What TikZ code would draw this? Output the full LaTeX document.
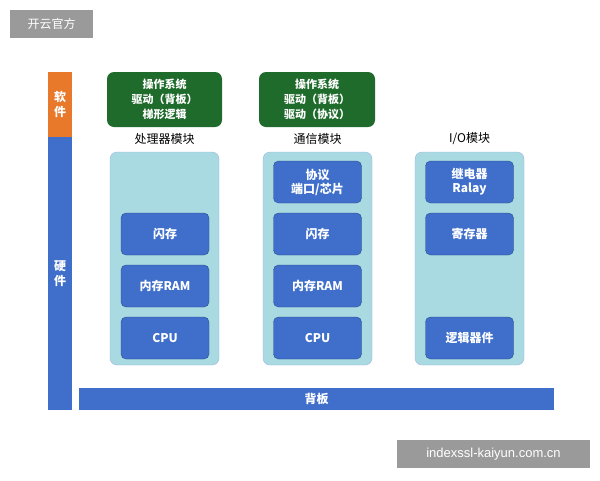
\documentclass[tikz,border=0pt]{standalone}
\usepackage{fontspec}
\setmainfont{Liberation Serif}
\newfontfamily\cjk{Noto Sans CJK SC}
\newfontfamily\wm{Liberation Sans}
\definecolor{hblue}{HTML}{3F6FCB}
\definecolor{lpanel}{HTML}{A9D9E1}
\definecolor{dgreen}{HTML}{1F6B2C}
\definecolor{sorange}{HTML}{E8792A}
\definecolor{wgray}{HTML}{9A9A9A}
\begin{document}
\begin{tikzpicture}[x=1pt,y=-1pt,
  inner/.style={draw=hblue!70!black,fill=hblue,rounded corners=5pt,text=white,font=\cjk\bfseries\fontsize{12}{14}\selectfont,align=center,minimum width=88,minimum height=42},
  gbox/.style={fill=dgreen,rounded corners=7pt,text=white,font=\cjk\bfseries\fontsize{11}{15}\selectfont,align=center},
  panel/.style={draw=hblue!50,fill=lpanel,rounded corners=7pt,minimum width=109,minimum height=213},
  lab/.style={font=\cjk\fontsize{12}{14}\selectfont},
  wmark/.style={fill=wgray,text=white,font=\cjk\fontsize{12}{14}\selectfont}]
\useasboundingbox (0,0) rectangle (600,480);
\fill[white] (0,0) rectangle (600,480);
% watermarks
\node[wmark,minimum width=83,minimum height=28] (wm1) at (51.5,24) {开云官方};
\node[wmark,minimum width=193,minimum height=28,font=\wm\fontsize{13}{15}\selectfont] (wm2) at (493.5,454) {indexssl-kaiyun.com.cn};
% left bar
\node[fill=sorange,minimum width=24,minimum height=65,inner sep=0,text=white,lab,font=\cjk\bfseries\fontsize{12}{15}\selectfont,align=center] (sw) at (60,104.5) {软\\件};
\node[fill=hblue,minimum width=24,minimum height=273,inner sep=0,text=white,lab,font=\cjk\bfseries\fontsize{12}{15}\selectfont,align=center] (hw) at (60,273.5) {硬\\件};
% backplane
\node[fill=hblue,minimum width=475,minimum height=22,inner sep=0,text=white,font=\cjk\bfseries\fontsize{12}{14}\selectfont] (bp) at (316.5,399) {背板};
% green boxes
\node[gbox,minimum width=115,minimum height=55] (g1) at (164.5,99.5) {操作系统\\驱动（背板）\\梯形逻辑};
\node[gbox,minimum width=116,minimum height=55] (g2) at (317,99.5) {操作系统\\驱动（背板）\\驱动（协议）};
% labels
\node[lab] (l1) at (164.5,139) {处理器模块};
\node[lab] (l2) at (317.5,139) {通信模块};
\node[lab] (l3) at (469.5,139) {I/O模块};
% panels
\node[panel] (p1) at (164.5,258.5) {};
\node[panel] (p2) at (317.5,258.5) {};
\node[panel] (p3) at (469.5,258.5) {};
% inner boxes
\node[inner] (a1) at (165,234) {闪存};
\node[inner] (a2) at (165,286) {内存RAM};
\node[inner] (a3) at (165,338) {CPU};
\node[inner] (b0) at (317.5,182) {协议\\端口/芯片};
\node[inner] (b1) at (317.5,234) {闪存};
\node[inner] (b2) at (317.5,286) {内存RAM};
\node[inner] (b3) at (317.5,338) {CPU};
\node[inner] (c0) at (469.5,182) {继电器\\Ralay};
\node[inner] (c1) at (469.5,234) {寄存器};
\node[inner] (c3) at (469.5,338) {逻辑器件};
\end{tikzpicture}
\end{document}
